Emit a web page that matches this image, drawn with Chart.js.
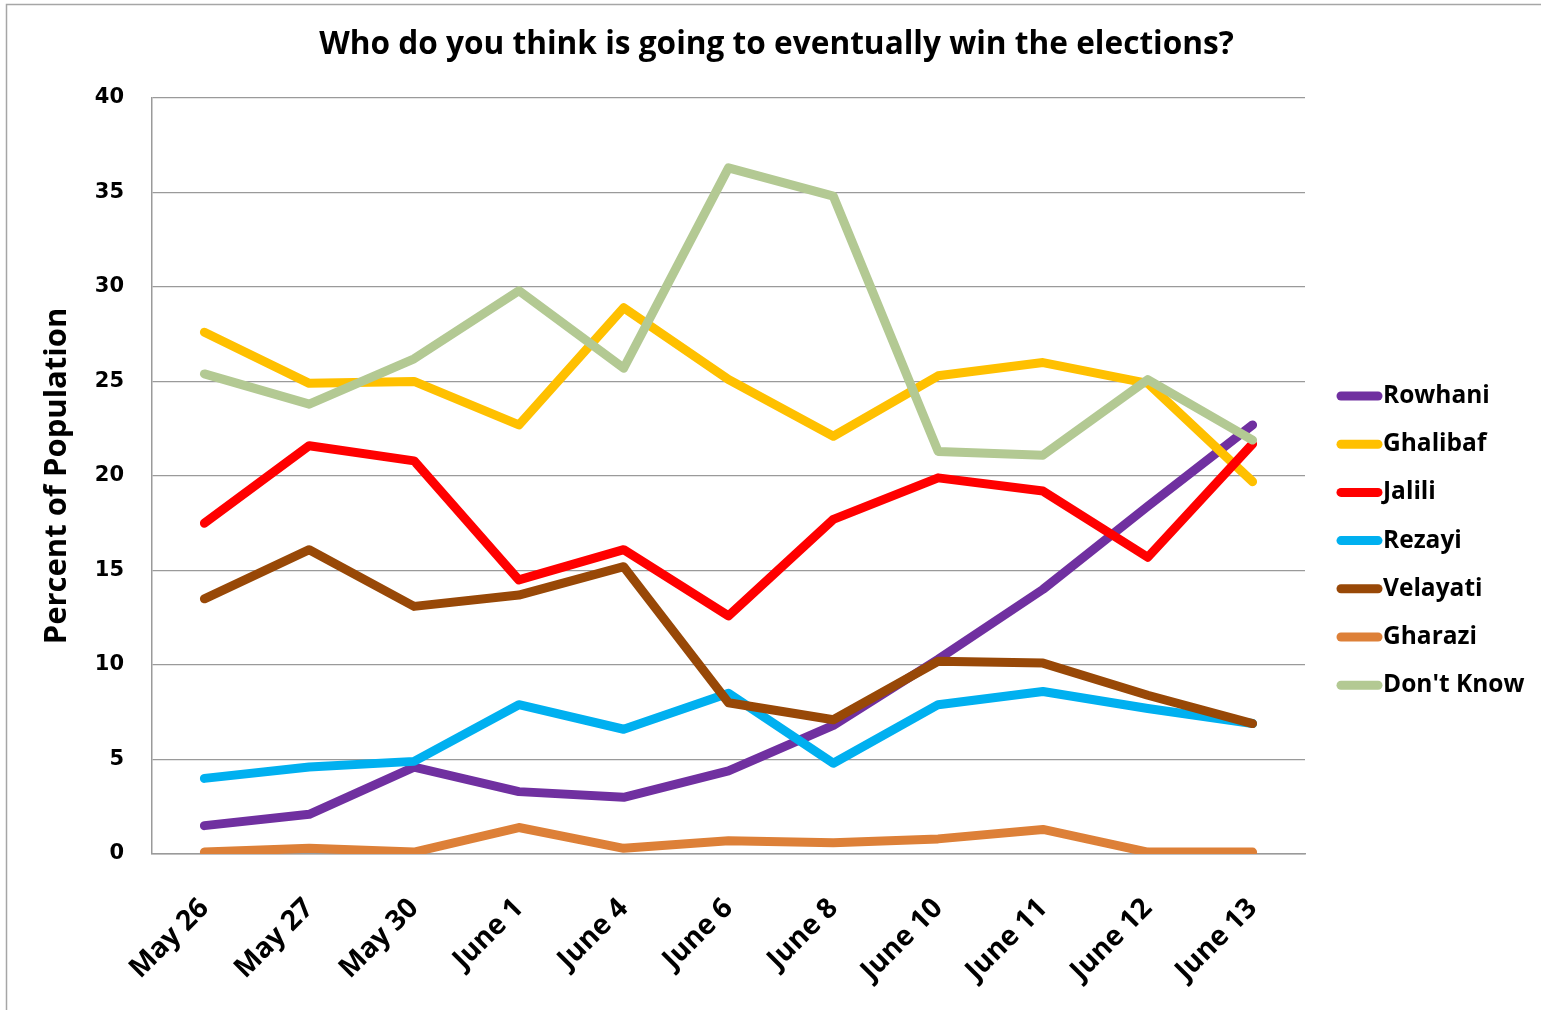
<!DOCTYPE html>
<html>
<head>
<meta charset="utf-8">
<script src="https://cdn.jsdelivr.net/npm/chart.js@4.4.1/dist/chart.umd.min.js"></script>
<style>
html,body{margin:0;padding:0;background:#fff;}
#wrap{position:relative;width:1541px;height:1010px;}
</style>
</head>
<body>
<div id="wrap"><canvas id="c" width="1541" height="1010"></canvas></div>
<script>
const categories = ["May 26","May 27","May 30","June 1","June 4","June 6","June 8","June 10","June 11","June 12","June 13"];
const seriesNames = ["Rowhani","Ghalibaf","Jalili","Rezayi","Velayati","Gharazi","Don't Know"];
const rowhani  = [1.5, 2.1, 4.6, 3.3, 3.0, 4.4, 6.8, 10.3, 14.0, 18.4, 22.7];
const ghalibaf = [27.6, 24.9, 25.0, 22.7, 28.9, 25.1, 22.1, 25.3, 26.0, 24.9, 19.7];
const jalili   = [17.5, 21.6, 20.8, 14.5, 16.1, 12.6, 17.7, 19.9, 19.2, 15.7, 21.7];
const rezayi   = [4.0, 4.6, 4.9, 7.9, 6.6, 8.5, 4.8, 7.9, 8.6, 7.7, 6.9];
const velayati = [13.5, 16.1, 13.1, 13.7, 15.2, 8.0, 7.1, 10.2, 10.1, 8.4, 6.9];
const gharazi  = [0.1, 0.3, 0.1, 1.4, 0.3, 0.7, 0.6, 0.8, 1.3, 0.1, 0.1];
const dontKnow = [25.4, 23.8, 26.2, 29.8, 25.7, 36.3, 34.8, 21.3, 21.1, 25.1, 21.9];
const yTicks = [0, 5, 10, 15, 20, 25, 30, 35, 40];
const colors = ["#7030A0","#FFC000","#FF0000","#00B0F0","#984807","#DD8038","#B3C993"];

const seriesValues = [rowhani, ghalibaf, jalili, rezayi, velayati, gharazi, dontKnow];
const datasets = seriesNames.map((n, i) => ({
  label: n,
  data: seriesValues[i],
  borderColor: colors[i],
  backgroundColor: colors[i],
  borderWidth: 9,
  borderCapStyle: 'round',
  borderJoinStyle: 'round',
  pointRadius: 0,
  pointHoverRadius: 0,
  tension: 0,
  fill: false,
  order: seriesNames.length - 1 - i,
  clip: {left: 12, right: 12, top: 12, bottom: 0}
}));

const framePlugin = {
  id: 'frame',
  beforeDraw(chart) {
    const ctx = chart.ctx;
    ctx.save();
    ctx.fillStyle = '#fff';
    ctx.fillRect(0, 0, chart.width, chart.height);
    ctx.strokeStyle = '#a6a6a6';
    ctx.lineWidth = 1.5;
    ctx.strokeRect(6.5, 4.5, 1540, 1010);
    ctx.restore();
  }
};

const legendPlugin = {
  id: 'customLegend',
  afterDraw(chart) {
    const ctx = chart.ctx;
    ctx.save();
    const x0 = 1341, x1 = 1378, tx = 1383;
    chart.data.datasets.forEach((ds, i) => {
      const y = 396 + i * 48.2;
      ctx.strokeStyle = ds.borderColor;
      ctx.lineWidth = 9;
      ctx.lineCap = 'round';
      ctx.beginPath();
      ctx.moveTo(x0, y);
      ctx.lineTo(x1, y);
      ctx.stroke();
      ctx.fillStyle = '#000';
      ctx.font = 'bold 24.5px "Open Sans"';
      ctx.textBaseline = 'middle';
      ctx.textAlign = 'left';
      ctx.fillText(ds.label, tx, y);
    });
    ctx.restore();
  }
};

new Chart(document.getElementById('c'), {
  type: 'line',
  data: { labels: categories, datasets },
  plugins: [framePlugin, legendPlugin],
  options: {
    responsive: false,
    animation: false,
    devicePixelRatio: 1,
    layout: { padding: { left: 12, right: 0, top: 0, bottom: 0 } },
    plugins: {
      legend: { display: false },
      tooltip: { enabled: false },
      title: {
        display: true,
        text: 'Who do you think is going to eventually win the elections?',
        color: '#000',
        font: { family: '"Open Sans"', size: 31.6, weight: 'bold', lineHeight: 1.2 },
        padding: { top: 26, bottom: 34 }
      }
    },
    scales: {
      x: {
        offset: true,
        grid: { display: false, drawTicks: false },
        border: { display: true, color: '#9a9a9a', width: 1.5 },
        ticks: {
          color: '#000',
          font: { family: '"Open Sans"', size: 28, weight: 'bold' },
          minRotation: 45, maxRotation: 45,
          padding: 38,
          autoSkip: false
        },
        afterFit(scale) { scale.height = 156; }
      },
      y: {
        min: 0, max: 40,
        afterBuildTicks(scale) { scale.ticks = yTicks.map(v => ({ value: v })); },
        grid: { color: '#9a9a9a', lineWidth: 1.2, drawTicks: false },
        border: { display: true, color: '#9a9a9a', width: 1.5 },
        ticks: {
          color: '#000',
          font: { family: '"DejaVu Sans"', size: 21, weight: 'bold' },
          padding: 28
        },
        title: {
          display: true,
          text: 'Percent of Population',
          color: '#000',
          font: { family: '"Open Sans"', size: 31, weight: 'bold', lineHeight: 1 },
          padding: { top: 30, bottom: 0 }
        },
        afterFit(scale) { scale.width = 140; }
      },
      yLegendSpace: {
        position: 'right',
        display: true,
        min: 0, max: 40,
        grid: { display: false, drawTicks: false },
        border: { display: false },
        ticks: { display: false },
        afterFit(scale) { scale.width = 236; }
      }
    }
  }
});
</script>
</body>
</html>
